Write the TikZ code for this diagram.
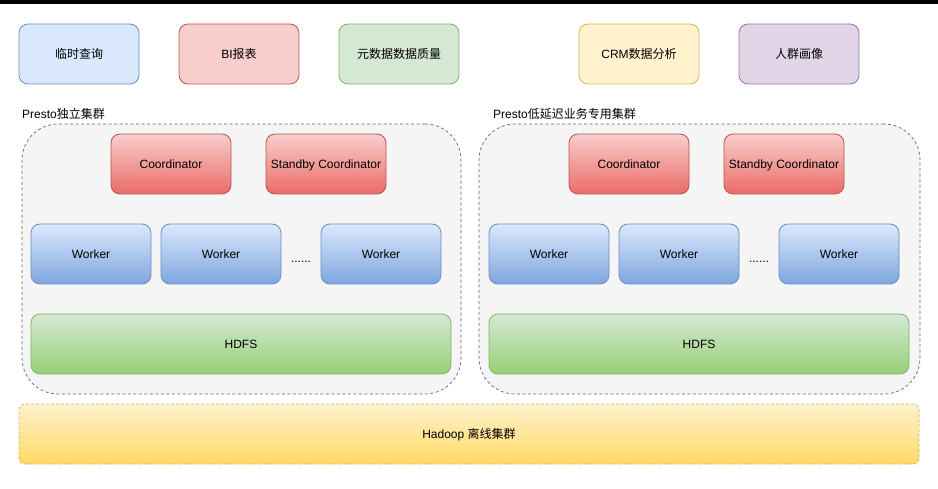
\documentclass[tikz,border=0pt]{standalone}
\usepackage{fontspec}
\setmainfont{Liberation Sans}
\newfontfamily\cjk{Noto Sans CJK SC}
\usepackage{tikz}
\usetikzlibrary{positioning,backgrounds}
\definecolor{bluefill}{HTML}{DAE8FC}
\definecolor{blueline}{HTML}{6C8EBF}
\definecolor{bluedark}{HTML}{7EA6E0}
\definecolor{redfill}{HTML}{F8CECC}
\definecolor{redline}{HTML}{B85450}
\definecolor{reddark}{HTML}{EA6B66}
\definecolor{greenfill}{HTML}{D5E8D4}
\definecolor{greenline}{HTML}{82B366}
\definecolor{greendark}{HTML}{97D077}
\definecolor{yellowfill}{HTML}{FFF2CC}
\definecolor{yellowline}{HTML}{D6B656}
\definecolor{yellowdark}{HTML}{FFD966}
\definecolor{purplefill}{HTML}{E1D5E7}
\definecolor{purpleline}{HTML}{9673A6}
\definecolor{grayfill}{HTML}{F5F5F5}
\definecolor{grayline}{HTML}{666666}
\newcommand{\boxfont}{\fontsize{12pt}{14pt}\selectfont}
\tikzset{
  appbox/.style={
    rectangle, rounded corners=9pt, draw=#1line, fill=#1fill,
    line width=0.8pt, minimum width=120pt, minimum height=60pt,
    font=\boxfont, text height=9pt, text depth=0.5pt,
    inner sep=2pt, outer sep=0pt
  },
  appbox/.default=blue,
  gradbox/.style={
    rectangle, rounded corners=9pt, draw=#1line,
    top color=#1fill, bottom color=#1dark,
    line width=0.8pt, minimum width=120pt, minimum height=60pt,
    font=\boxfont, text height=9pt, text depth=0.5pt,
    inner sep=2pt, outer sep=0pt
  },
  gradbox/.default=blue,
  clusterbox/.style={
    rectangle, rounded corners=36pt, draw=grayline, fill=grayfill,
    line width=0.7pt, dash pattern=on 3pt off 2.5pt,
    minimum height=270pt, outer sep=0pt
  },
  clusterlabel/.style={font=\boxfont, anchor=west, inner sep=0pt},
  hadoopbox/.style={
    rectangle, rounded corners=5pt, draw=yellowline,
    top color=yellowfill, bottom color=yellowdark,
    line width=0.7pt, dash pattern=on 3pt off 2pt,
    minimum width=900pt, minimum height=60pt,
    font=\boxfont, text height=9pt, text depth=0.5pt, outer sep=0pt
  },
  dotsnode/.style={font=\boxfont, inner sep=0pt, yshift=-8pt},
}
\begin{document}
\begin{tikzpicture}[x=1pt, y=-1pt]
    % canvas and top bar
    \useasboundingbox (0,0) rectangle (938,489);
    \fill[black] (0,0) rectangle (938,4);

    % Applications
    \node[appbox=blue] (adhoc) at (79,54) {{\cjk 临时查询}};
    \node[appbox=red, right=40pt of adhoc] (bireport) {BI{\cjk 报表}};
    \node[appbox=green, right=40pt of bireport] (metaquality) {{\cjk 元数据数据质量}};
    \node[appbox=yellow, right=120pt of metaquality] (crm) {CRM{\cjk 数据分析}};
    \node[appbox=purple, right=40pt of crm] (persona) {{\cjk 人群画像}};

    % Presto standalone cluster
    \node[clusterlabel] (labelA) at (22,114) {Presto{\cjk 独立集群}};
    \node[clusterbox, minimum width=439pt] (clusterA) at (241.5,259) {};
    \node[gradbox=red] (coordA) at (171,164) {Coordinator};
    \node[gradbox=red, right=35pt of coordA] (standbyA) {Standby Coordinator};
    \node[gradbox=blue] (workerA1) at (91,254) {Worker};
    \node[gradbox=blue, right=10pt of workerA1] (workerA2) {Worker};
    \node[gradbox=blue, right=40pt of workerA2] (workerA3) {Worker};
    \path (workerA2) -- (workerA3) node[midway, dotsnode] (dotsA) {......};
    \node[gradbox=green, minimum width=420pt] (hdfsA) at (241,344) {HDFS};

    % Presto low latency cluster
    \node[clusterlabel] (labelB) at (493,114) {Presto{\cjk 低延迟业务专用集群}};
    \node[clusterbox, minimum width=441pt] (clusterB) at (699.5,259) {};
    \node[gradbox=red] (coordB) at (629,164) {Coordinator};
    \node[gradbox=red, right=35pt of coordB] (standbyB) {Standby Coordinator};
    \node[gradbox=blue] (workerB1) at (549,254) {Worker};
    \node[gradbox=blue, right=10pt of workerB1] (workerB2) {Worker};
    \node[gradbox=blue, right=40pt of workerB2] (workerB3) {Worker};
    \path (workerB2) -- (workerB3) node[midway, dotsnode] (dotsB) {......};
    \node[gradbox=green, minimum width=420pt] (hdfsB) at (699,344) {HDFS};

    % Hadoop offline cluster
    \node[hadoopbox] (hadoop) at (469,434) {Hadoop {\cjk 离线集群}};
\end{tikzpicture}
\end{document}
